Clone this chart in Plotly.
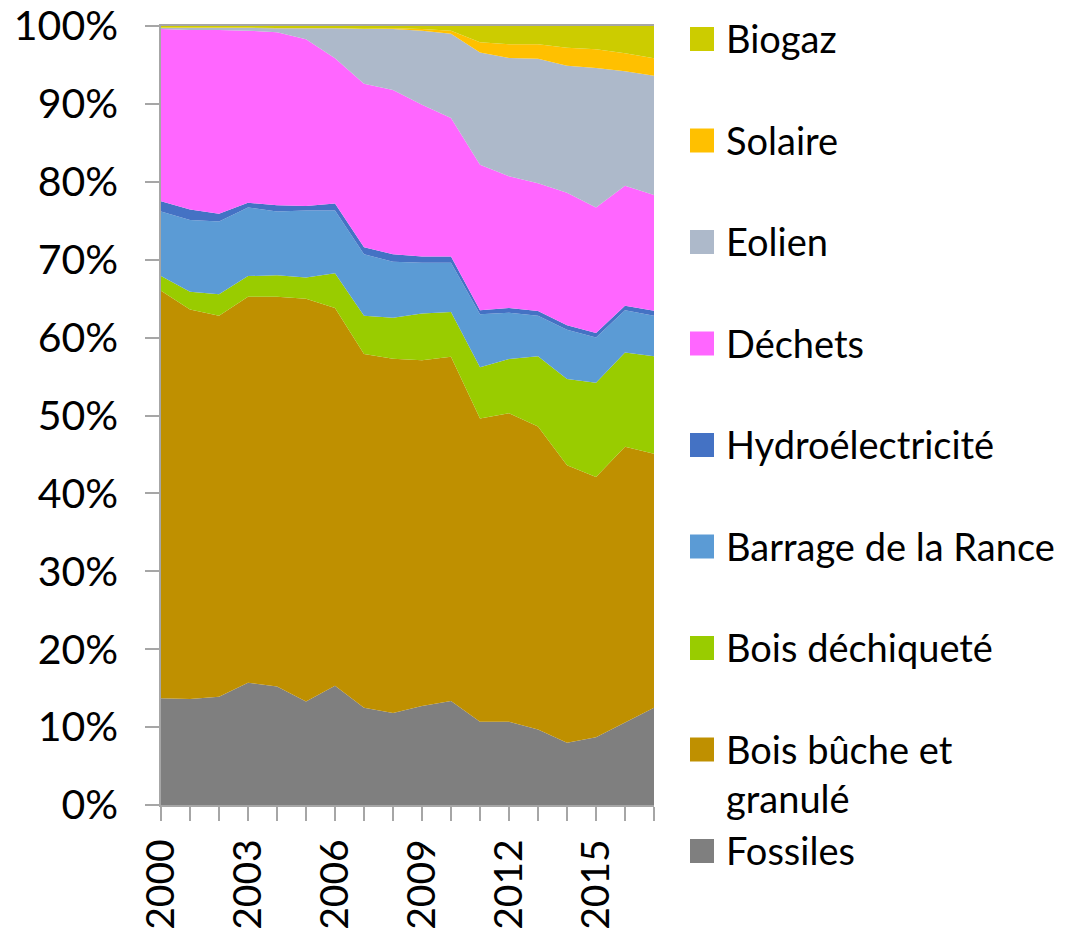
import plotly.graph_objects as go

years = list(range(2000, 2018))

fossiles = [13.7, 13.6, 13.9, 15.7, 15.2, 13.3, 15.3, 12.5, 11.8, 12.7, 13.35, 10.7, 10.7, 9.7, 8.0, 8.7, 10.6, 12.5]
bois_buche = [52.3, 50.0, 48.9, 49.55, 50.05, 51.7, 48.5, 45.4, 45.5, 44.4, 44.2, 38.9, 39.6, 38.9, 35.6, 33.4, 35.4, 32.6]
bois_dechiquete = [1.9, 2.3, 2.75, 2.65, 2.75, 2.7, 4.45, 4.9, 5.25, 6.0, 5.75, 6.6, 6.95, 9.0, 11.1, 12.1, 12.1, 12.5]
barrage_rance = [8.3, 9.2, 9.35, 8.8, 8.2, 8.6, 8.05, 7.9, 7.2, 6.5, 6.3, 6.8, 5.95, 5.2, 6.3, 5.8, 5.4, 5.2]
hydro = [1.3, 1.35, 1.0, 0.6, 0.8, 0.6, 0.9, 0.9, 0.95, 0.8, 0.8, 0.5, 0.6, 0.6, 0.6, 0.6, 0.6, 0.65]
dechets = [22.1, 23.05, 23.6, 22.1, 22.2, 21.4, 18.65, 21.0, 21.1, 19.5, 17.8, 18.7, 16.9, 16.4, 17.0, 16.1, 15.4, 14.85]
eolien = [0.15, 0.25, 0.3, 0.35, 0.5, 1.4, 3.85, 7.0, 7.8, 9.5, 10.8, 14.4, 15.2, 16.0, 16.3, 17.9, 14.7, 15.3]
solaire = [0.05, 0.05, 0.05, 0.05, 0.05, 0.05, 0.05, 0.05, 0.1, 0.2, 0.4, 1.3, 1.75, 1.85, 2.3, 2.4, 2.3, 2.25]
biogaz = [0.2, 0.2, 0.15, 0.2, 0.25, 0.25, 0.25, 0.35, 0.3, 0.4, 0.6, 2.1, 2.35, 2.35, 2.8, 3.0, 3.5, 4.15]

series = [
    ("Fossiles", fossiles, "#7F7F7F"),
    ("Bois bûche et<br>granulé", bois_buche, "#BF9000"),
    ("Bois déchiqueté", bois_dechiquete, "#99CC00"),
    ("Barrage de la Rance", barrage_rance, "#5B9BD5"),
    ("Hydroélectricité", hydro, "#4472C4"),
    ("Déchets", dechets, "#FF66FF"),
    ("Eolien", eolien, "#ADB9CA"),
    ("Solaire", solaire, "#FFC000"),
    ("Biogaz", biogaz, "#CCCC00"),
]

y_ticks = list(range(0, 101, 10))
y_tick_text = [f"{v}%" for v in y_ticks]
x_tick_text = [str(y) if (y - 2000) % 3 == 0 else "" for y in years]

FONT = "Lato"
OFF = 8  # page body margin offset
W, H = 1068 - OFF, 932 - OFF
L, R, T, B = 161 - OFF, 1068 - 654, 26 - OFF, 932 - 805
pw, ph = W - L - R, H - T - B

fig = go.Figure()
for name, vals, color in series:
    fig.add_trace(go.Scatter(
        x=years, y=vals, name=name.replace("<br>", " "), mode="lines",
        stackgroup="one", groupnorm="percent",
        line=dict(width=0, color=color), fillcolor=color,
        showlegend=False, hoverinfo="x+y+name",
    ))

# screen pixel -> paper coords
def px2x(px):
    return (px - OFF - L) / pw

def py2y(py):
    return (T + ph - (py - OFF)) / ph

shapes = []
annotations = []
for i, (name, vals, color) in enumerate(reversed(series)):
    cy = 39 + 101.5 * i
    shapes.append(dict(type="rect", xref="paper", yref="paper",
                       x0=px2x(690), x1=px2x(714), y0=py2y(cy + 12), y1=py2y(cy - 12),
                       fillcolor=color, line=dict(width=0)))
    annotations.append(dict(xref="paper", yref="paper", x=px2x(724), y=py2y(cy - 26),
                            xanchor="left", yanchor="top", align="left",
                            text=name, showarrow=False,
                            font=dict(family=FONT, size=38, color="#000000")))

fig.update_layout(
    width=W, height=H,
    margin=dict(l=L, r=R, t=T, b=B, pad=0, autoexpand=False),
    paper_bgcolor="white", plot_bgcolor="white",
    showlegend=False,
    shapes=shapes, annotations=annotations,
    font=dict(family=FONT, color="#000000"),
)
fig.update_xaxes(
    range=[2000, 2017], tickvals=years, ticktext=x_tick_text, tickangle=-90,
    ticks="outside", ticklen=14, tickcolor="#A6A6A6", tickwidth=1.5,
    showline=True, linecolor="#A6A6A6", linewidth=1.5, mirror=True,
    showgrid=False, zeroline=False, ticklabelstandoff=3, automargin=False,
    ticklabeloverflow="allow",
    tickfont=dict(family=FONT, size=39, color="#000000"),
)
fig.update_yaxes(
    range=[0, 100], tickvals=y_ticks, ticktext=y_tick_text,
    ticks="outside", ticklen=14, tickcolor="#A6A6A6", tickwidth=1.5,
    showline=True, linecolor="#A6A6A6", linewidth=1.5,
    showgrid=False, zeroline=False, ticklabelstandoff=19, automargin=False,
    ticklabeloverflow="allow",
    tickfont=dict(family=FONT, size=41, color="#000000"),
)

fig.write_html("out.html")
